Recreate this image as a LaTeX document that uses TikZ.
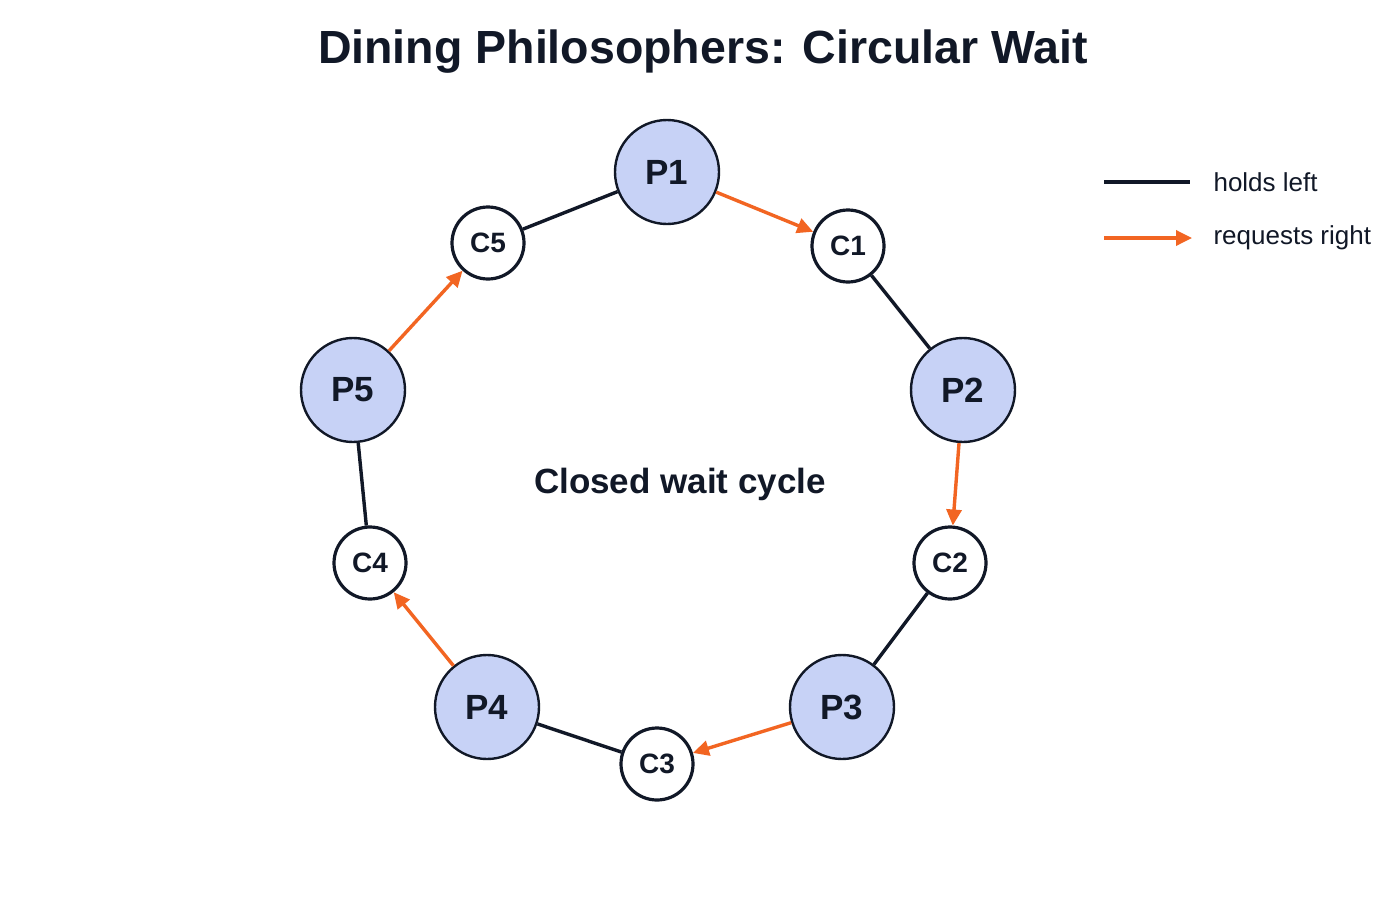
\documentclass[tikz,border=0pt]{standalone}
\usepackage{fontspec}
\setmainfont{Liberation Sans}
\usetikzlibrary{arrows.meta}
\definecolor{pfill}{HTML}{C7D2F6}
\definecolor{org}{HTML}{F26522}
\definecolor{ink}{HTML}{111827}
\begin{document}
\begin{tikzpicture}[x=1pt,y=-1pt,
 phil/.style={circle,draw=ink,line width=2.4pt,fill=pfill,minimum size=104pt,inner sep=0pt,font=\fontsize{35}{36}\selectfont\bfseries,text=ink},
 chop/.style={circle,draw=ink,line width=3.2pt,fill=white,minimum size=72pt,inner sep=0pt,font=\fontsize{28}{30}\selectfont\bfseries,text=ink},
 hold/.style={draw=ink,line width=3.4pt},
 req/.style={draw=org,line width=3.4pt,-{Triangle[length=16pt,width=15pt]}}]
\useasboundingbox[fill=white] (0,0) rectangle (1400,900);
\node[font=\fontsize{46.5}{50}\selectfont\bfseries,text=ink] (title) at (703,52) {Dining Philosophers: Circular Wait};
\node[font=\fontsize{35}{38}\selectfont\bfseries,text=ink] (ctr) at (680,484) {Closed wait cycle};
\node[phil] (P1) at (667,172) {P1};
\node[phil] (P2) at (963,390) {P2};
\node[phil] (P3) at (842,707) {P3};
\node[phil] (P4) at (487,707) {P4};
\node[phil] (P5) at (353,390) {P5};
\node[chop] (C1) at (848,246) {C1};
\node[chop] (C2) at (950,563) {C2};
\node[chop] (C3) at (657,764) {C3};
\node[chop] (C4) at (370,563) {C4};
\node[chop] (C5) at (488,243) {C5};
\draw[hold] (P1) -- (C5);
\draw[hold] (P2) -- (C1);
\draw[hold] (P3) -- (C2);
\draw[hold] (P4) -- (C3);
\draw[hold] (P5) -- (C4);
\draw[req] (P1) -- (C1);
\draw[req] (P2) -- (C2);
\draw[req] (P3) -- (C3);
\draw[req] (P4) -- (C4);
\draw[req] (P5) -- (C5);
\coordinate (l1a) at (1104,182); \coordinate (l1b) at (1190,182);
\coordinate (l2a) at (1104,238); \coordinate (l2b) at (1192,238);
\draw[hold] (l1a) -- (l1b);
\draw[req] (l2a) -- (l2b);
\node[anchor=west,font=\fontsize{26}{28}\selectfont,text=ink] (t1) at (1210,182) {holds left};
\node[anchor=west,font=\fontsize{26}{28}\selectfont,text=ink] (t2) at (1210,238) {requests right};
\end{tikzpicture}
\end{document}
